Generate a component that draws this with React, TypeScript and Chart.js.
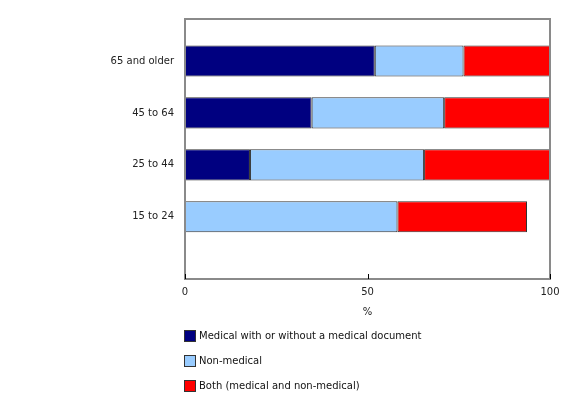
import React, { useEffect, useRef } from 'react';
import { Chart, registerables } from 'chart.js';

Chart.register(...registerables);

const categories = ['65 and older', '45 to 64', '25 to 44', '15 to 24'];
const medical: (number | null)[] = [52.0, 34.7, 17.8, null];
const nonMedical: (number | null)[] = [24.3, 36.3, 47.7, 58.2];
const both: (number | null)[] = [23.7, 29.0, 34.5, 35.5];
const seriesNames = [
  'Medical with or without a medical document',
  'Non-medical',
  'Both (medical and non-medical)',
];
const seriesColors = ['#000080', '#99ccff', '#ff0000'];
const xTickValues = [0, 50, 100];
const xTitle = '%';

const FONT = "'DejaVu Sans', Verdana, sans-serif";

const framePlugin = {
  id: 'frame',
  afterDatasetsDraw(chart: any) {
    const { ctx, chartArea: a } = chart;
    const x = chart.scales.x;
    ctx.save();
    ctx.strokeStyle = '#8a8a8a';
    ctx.lineWidth = 2;
    ctx.strokeRect(a.left, a.top, a.right - a.left, a.bottom - a.top);
    ctx.strokeStyle = '#000';
    ctx.lineWidth = 1;
    x.ticks.forEach((t: any) => {
      const px = Math.round(x.getPixelForValue(t.value)) + 0.5;
      ctx.beginPath();
      ctx.moveTo(px, a.bottom);
      ctx.lineTo(px, a.bottom - 5);
      ctx.stroke();
    });
    ctx.restore();
  },
};

export default function App() {
  const ref = useRef<HTMLCanvasElement | null>(null);

  useEffect(() => {
    if (!ref.current) return;
    const series = [medical, nonMedical, both];
    const chart = new Chart(ref.current, {
      type: 'bar',
      data: {
        datasets: series.map((vals, si) => ({
          label: seriesNames[si],
          data: vals.map((v, i) => ({ x: v, y: i })) as any,
          backgroundColor: seriesColors[si],
          borderColor: '#333333',
          borderWidth: 1,
          borderSkipped: false,
          barPercentage: 0.6,
          categoryPercentage: 1,
        })),
      },
      options: {
        indexAxis: 'y',
        animation: false,
        responsive: false,
        layout: { padding: { top: 19, right: 30, left: 0, bottom: 0 } },
        plugins: {
          legend: { display: false },
          tooltip: { enabled: false },
        },
        scales: {
          x: {
            type: 'linear',
            stacked: true,
            min: 0,
            max: 100,
            offset: false,
            grid: { display: false, drawTicks: false, offset: false },
            border: { display: false },
            ticks: { padding: 7, color: '#222', font: { family: FONT, size: 10 } },
            afterBuildTicks: (s: any) => {
              s.ticks = xTickValues.map((v) => ({ value: v }));
            },
            afterFit: (s: any) => {
              s.height = 116;
            },
            title: {
              display: true,
              text: xTitle,
              color: '#222',
              font: { family: FONT, size: 10 },
              padding: { top: 0, bottom: 77 },
            },
          },
          y: {
            type: 'linear',
            stacked: true,
            reverse: true,
            min: -0.81,
            max: 4.2,
            offset: false,
            grid: { display: false, drawTicks: false, offset: false },
            border: { display: false },
            afterBuildTicks: (s: any) => {
              s.ticks = categories.map((_, i) => ({ value: i }));
            },
            afterFit: (s: any) => {
              s.width = 185;
            },
            ticks: {
              padding: 11,
              color: '#222',
              font: { family: FONT, size: 10 },
              callback: (v: any) => categories[v as number] ?? '',
            },
          },
        },
      },
      plugins: [framePlugin],
    });
    return () => chart.destroy();
  }, []);

  return (
    <div
      style={{
        position: 'fixed',
        left: 0,
        top: 0,
        width: 580,
        height: 395,
        background: '#fff',
        overflow: 'hidden',
      }}
    >
      <canvas ref={ref} width={580} height={395} style={{ display: 'block' }} />
      {seriesNames.map((name, i) => (
        <div
          key={name}
          style={{
            position: 'absolute',
            left: 184,
            top: 329 + i * 25,
            height: 13,
            display: 'flex',
            alignItems: 'center',
            fontFamily: FONT,
            fontSize: 10,
            color: '#111',
            whiteSpace: 'nowrap',
          }}
        >
          <span
            style={{
              display: 'inline-block',
              width: 10,
              height: 10,
              background: seriesColors[i],
              border: '1px solid #333',
              marginRight: 3,
            }}
          />
          <span>{name}</span>
        </div>
      ))}
    </div>
  );
}
